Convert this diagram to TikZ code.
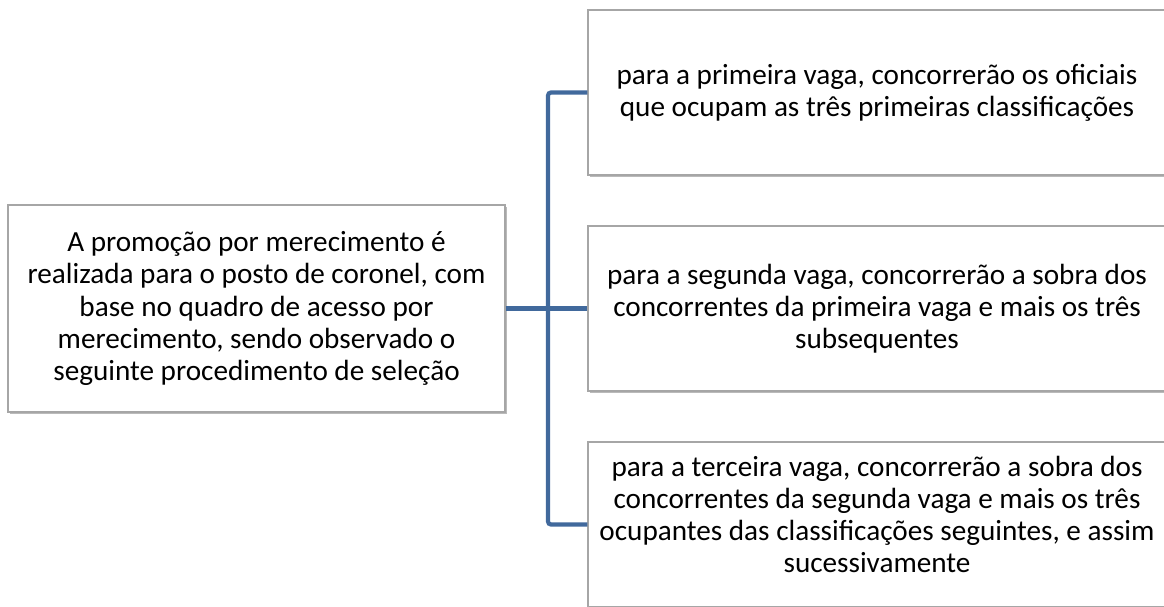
\documentclass[tikz,border=0pt]{standalone}
\usepackage{fontspec}
\setmainfont{Carlito}
\usetikzlibrary{shadows}
\definecolor{linkblue}{HTML}{41699C}
\definecolor{boxline}{HTML}{A6A6A6}
\begin{document}
\begin{tikzpicture}[x=1pt,y=-1pt,
  box/.style={draw=boxline, line width=1.2pt, fill=white, rectangle,
    align=center, inner sep=2pt,
    font=\fontsize{29.2}{32.2}\selectfont,
    drop shadow={shadow xshift=1.5pt, shadow yshift=-2pt, opacity=0.45, fill=black!60}},
  link/.style={draw=linkblue, line width=4.2pt, rounded corners=3pt}]
\useasboundingbox (0,0) rectangle (1164,607);
\clip (0,0) rectangle (1164,607);
\node[box, minimum width=497pt, minimum height=207pt] (main) at (256.5,308.5)
  {A promoção por merecimento é\\realizada para o posto de coronel, com\\base no quadro de acesso por\\merecimento, sendo observado o\\seguinte procedimento de seleção};
\node[box, minimum width=578pt, minimum height=165pt] (b1) at (877,92.5)
  {para a primeira vaga, concorrerão os oficiais\\que ocupam as três primeiras classificações};
\node[box, minimum width=578pt, minimum height=165pt] (b2) at (877,308.5)
  {para a segunda vaga, concorrerão a sobra dos\\concorrentes da primeira vaga e mais os três\\subsequentes};
\node[box, minimum width=578pt, minimum height=165pt] (b3) at (877,524.5)
  {para a terceira vaga, concorrerão a sobra dos\\concorrentes da segunda vaga e mais os três\\ocupantes das classificações seguintes, e assim\\sucessivamente\\[-12pt]};
\coordinate (jt) at (548,92.5);
\coordinate (jb) at (548,524.5);
\draw[link] (main.east) -- (b2.west);
\draw[link] (b1.west) -- (jt) -- (jb) -- (b3.west);
\end{tikzpicture}
\end{document}
